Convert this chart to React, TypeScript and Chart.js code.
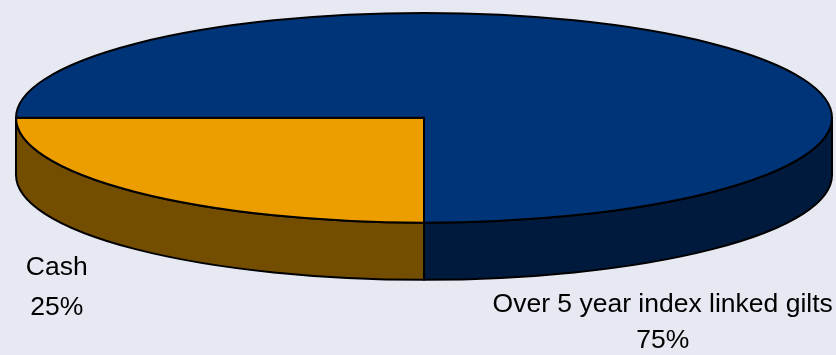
import { useEffect, useRef } from "react";
import { Chart, registerables } from "chart.js";

Chart.register(...registerables);

const categories = ["Cash", "Over 5 year index linked gilts"];
const values = [25, 75];
const topColors = ["#ec9d00", "#003478"];
const sideColors = ["#734d00", "#001a3e"];

const TILT = 0.257; // ry / rx
const DEPTH = 0.14; // depth / rx
const BG = "#e6e8f2";

function geom(chart: any) {
  const a = chart.chartArea;
  const rx = (a.right - a.left) / 2;
  const cx = (a.left + a.right) / 2;
  const ry = rx * TILT;
  const cy = a.top + ry;
  const depth = rx * DEPTH;
  return { cx, cy, rx, ry, depth };
}

const pie3d = {
  id: "pie3d",
  beforeDatasetsDraw(chart: any) {
    const ctx = chart.ctx as CanvasRenderingContext2D;
    const { cx, cy, rx, ry, depth } = geom(chart);
    const meta = chart.getDatasetMeta(0);
    ctx.save();
    ctx.lineWidth = 2;
    ctx.strokeStyle = "#000000";
    ctx.lineJoin = "round";
    // side walls (front half: 0..PI)
    meta.data.forEach((el: any, i: number) => {
      const s = el.startAngle;
      const e = el.endAngle;
      for (let k = -2; k <= 4; k += 2) {
        const lo = k * Math.PI;
        const a1 = Math.max(s, lo);
        const a2 = Math.min(e, lo + Math.PI);
        if (a2 > a1) {
          ctx.beginPath();
          ctx.ellipse(cx, cy, rx, ry, 0, a1, a2, false);
          ctx.ellipse(cx, cy + depth, rx, ry, 0, a2, a1, true);
          ctx.closePath();
          ctx.fillStyle = sideColors[i];
          ctx.fill();
          ctx.stroke();
        }
      }
    });
    // top faces
    meta.data.forEach((el: any, i: number) => {
      ctx.beginPath();
      ctx.moveTo(cx, cy);
      ctx.ellipse(cx, cy, rx, ry, 0, el.startAngle, el.endAngle, false);
      ctx.closePath();
      ctx.fillStyle = topColors[i];
      ctx.fill();
      ctx.stroke();
    });
    ctx.restore();
    return false;
  },
  afterDraw(chart: any) {
    const ctx = chart.ctx as CanvasRenderingContext2D;
    const { cx, cy, rx, ry, depth } = geom(chart);
    const total = values.reduce((a, b) => a + b, 0);
    const base = cy + ry + depth;
    const anchors = [
      { x: cx - rx * 0.9, y: base - 5, gap: 40 },
      { x: cx + rx * 0.585, y: base + 32, gap: 36 },
    ];
    ctx.save();
    ctx.font = "26.5px 'Liberation Sans', Arial, sans-serif";
    ctx.fillStyle = "#000000";
    ctx.textAlign = "center";
    ctx.textBaseline = "alphabetic";
    categories.forEach((c, i) => {
      const a = anchors[i];
      ctx.fillText(c, a.x, a.y);
      ctx.fillText(Math.round((values[i] / total) * 100) + "%", a.x, a.y + a.gap);
    });
    ctx.restore();
  },
};

export default function App() {
  const ref = useRef<HTMLCanvasElement | null>(null);
  useEffect(() => {
    if (!ref.current) return;
    const chart = new Chart(ref.current, {
      type: "pie",
      data: {
        labels: categories,
        datasets: [
          {
            data: values,
            backgroundColor: topColors,
            borderColor: "#000000",
            borderWidth: 2,
          },
        ],
      },
      options: {
        animation: false,
        responsive: false,
        devicePixelRatio: 1,
        rotation: 180,
        layout: { padding: { left: 16, right: 4, top: 13, bottom: 0 } },
        plugins: {
          legend: { display: false },
          tooltip: { enabled: false },
        },
      },
      plugins: [pie3d],
    });
    return () => chart.destroy();
  }, []);
  return (
    <div
      style={{
        position: "fixed",
        left: 0,
        top: 0,
        width: 836,
        height: 355,
        background: BG,
      }}
    >
      <canvas ref={ref} width={836} height={355} style={{ display: "block" }} />
    </div>
  );
}
